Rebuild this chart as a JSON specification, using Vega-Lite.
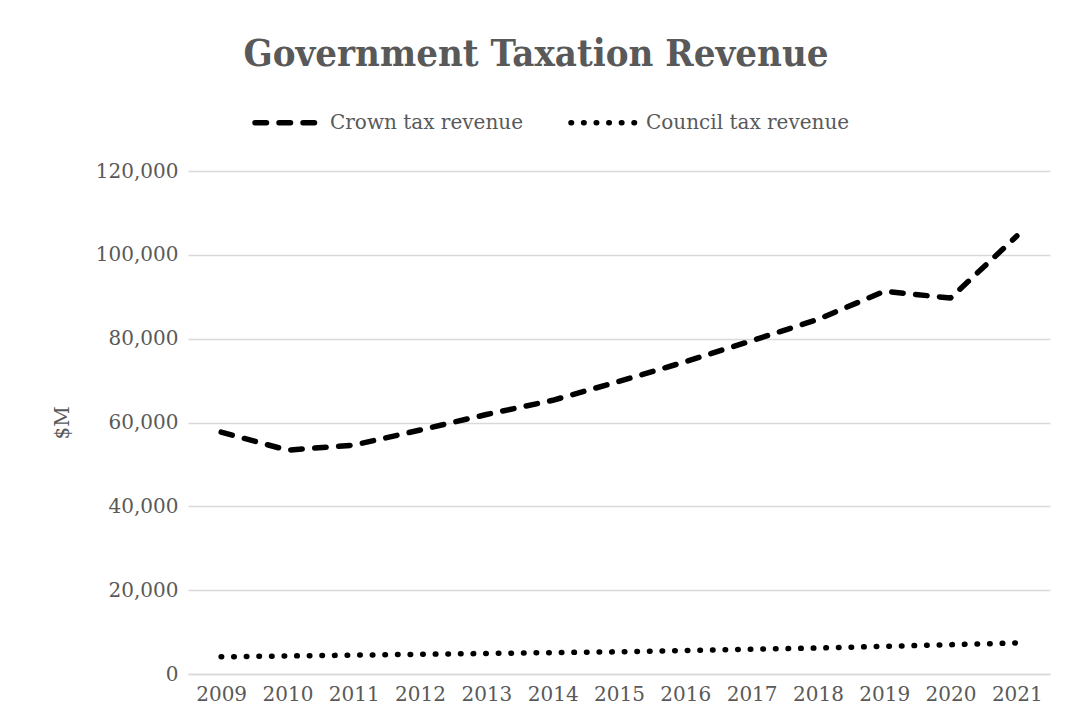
{
  "$schema": "https://vega.github.io/schema/vega-lite/v6.json",
  "width": 862,
  "height": 503,
  "autosize": "none",
  "padding": {"left": 188, "top": 171, "right": 16, "bottom": 54},
  "background": "white",
  "title": {
    "text": "Government Taxation Revenue",
    "anchor": "middle",
    "frame": "group",
    "dx": -83,
    "offset": 13,
    "font": "DejaVu Serif Condensed, DejaVu Serif",
    "fontSize": 38,
    "fontWeight": "bold",
    "color": "#595959"
  },
  "data": {
    "values": [
      {"year": "2009", "series": "Crown tax revenue", "value": 57700},
      {"year": "2010", "series": "Crown tax revenue", "value": 53400},
      {"year": "2011", "series": "Crown tax revenue", "value": 54600},
      {"year": "2012", "series": "Crown tax revenue", "value": 58200},
      {"year": "2013", "series": "Crown tax revenue", "value": 61900},
      {"year": "2014", "series": "Crown tax revenue", "value": 65300},
      {"year": "2015", "series": "Crown tax revenue", "value": 69800},
      {"year": "2016", "series": "Crown tax revenue", "value": 74500},
      {"year": "2017", "series": "Crown tax revenue", "value": 79500},
      {"year": "2018", "series": "Crown tax revenue", "value": 84600},
      {"year": "2019", "series": "Crown tax revenue", "value": 91300},
      {"year": "2020", "series": "Crown tax revenue", "value": 89700},
      {"year": "2021", "series": "Crown tax revenue", "value": 104500},
      {"year": "2009", "series": "Council tax revenue", "value": 4100},
      {"year": "2010", "series": "Council tax revenue", "value": 4300},
      {"year": "2011", "series": "Council tax revenue", "value": 4500},
      {"year": "2012", "series": "Council tax revenue", "value": 4700},
      {"year": "2013", "series": "Council tax revenue", "value": 4900},
      {"year": "2014", "series": "Council tax revenue", "value": 5100},
      {"year": "2015", "series": "Council tax revenue", "value": 5300},
      {"year": "2016", "series": "Council tax revenue", "value": 5600},
      {"year": "2017", "series": "Council tax revenue", "value": 5900},
      {"year": "2018", "series": "Council tax revenue", "value": 6200},
      {"year": "2019", "series": "Council tax revenue", "value": 6600},
      {"year": "2020", "series": "Council tax revenue", "value": 7000},
      {"year": "2021", "series": "Council tax revenue", "value": 7400}
    ]
  },
  "mark": {"type": "line", "color": "black", "strokeWidth": 5.5, "strokeCap": "round", "strokeJoin": "round"},
  "encoding": {
    "x": {
      "field": "year",
      "type": "ordinal",
      "scale": {"type": "point", "padding": 0.5},
      "axis": {
        "title": null,
        "labelAngle": 0,
        "labelFont": "DejaVu Serif",
        "labelFontSize": 20,
        "labelColor": "#595959",
        "labelPadding": 10,
        "ticks": false,
        "domain": true,
        "domainColor": "#d9d9d9",
        "domainWidth": 1.5,
        "grid": false
      }
    },
    "y": {
      "field": "value",
      "type": "quantitative",
      "scale": {"domain": [0, 120000], "nice": false},
      "axis": {
        "title": "$M",
        "titleFont": "DejaVu Serif",
        "titleFontSize": 20,
        "titleFontWeight": "normal",
        "titleColor": "#595959",
        "titlePadding": 23,
        "values": [0, 20000, 40000, 60000, 80000, 100000, 120000],
        "format": ",.0f",
        "labelFont": "DejaVu Serif",
        "labelFontSize": 20,
        "labelColor": "#595959",
        "labelPadding": 10,
        "ticks": false,
        "domain": false,
        "grid": true,
        "gridColor": "#d9d9d9",
        "gridWidth": 1.5
      }
    },
    "strokeDash": {
      "field": "series",
      "type": "nominal",
      "sort": ["Crown tax revenue", "Council tax revenue"],
      "scale": {"domain": ["Crown tax revenue", "Council tax revenue"], "range": [[11.5, 12.5], [0.5, 12.1]]},
      "legend": {
        "title": null,
        "orient": "none",
        "direction": "horizontal",
        "legendX": 64,
        "legendY": -84,
        "symbolType": "stroke",
        "symbolSize": 4225,
        "symbolStrokeWidth": 5.5,
        "symbolStrokeColor": "black",
        "labelFont": "DejaVu Serif",
        "labelFontSize": 20,
        "labelColor": "#595959",
        "labelLimit": 400,
        "columnPadding": 37,
        "labelOffset": 7,
        "encode": {"symbols": {"update": {"strokeCap": {"value": "round"}}}}
      }
    }
  },
  "config": {"view": {"stroke": null}}
}
